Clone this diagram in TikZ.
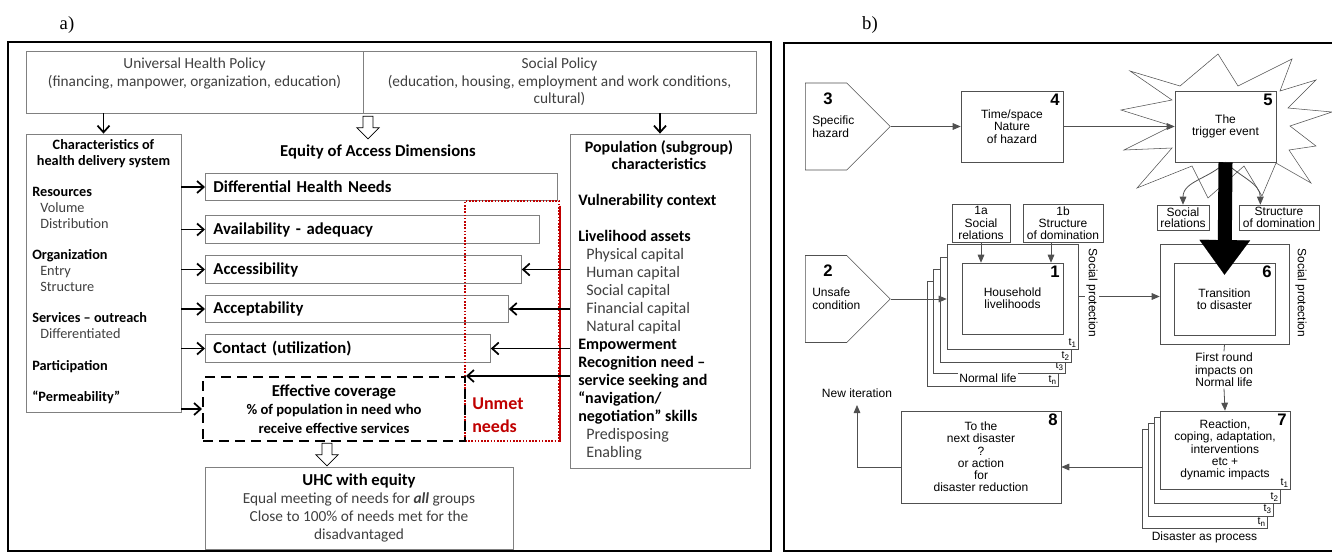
\documentclass[tikz,border=0pt]{standalone}
\usepackage{fontspec}
\setmainfont{Liberation Serif}
\newfontfamily\calfont{Carlito}
\newfontfamily\helvfont{Liberation Sans}
\usepackage{xcolor}
\usepackage{tikz}
\usetikzlibrary{positioning, arrows.meta, shapes.arrows, shapes.symbols}

\definecolor{boxgray}{HTML}{808080}
\definecolor{txtgray}{HTML}{404040}
\definecolor{unmetred}{HTML}{C00000}
\definecolor{linegray}{HTML}{505050}

\newcommand{\kw}[1]{\textcolor{black}{\bfseries #1}}
\newcommand{\tsub}[1]{t\raisebox{-1.5pt}{\fontsize{6}{6}\selectfont #1}}

\tikzset{
  abox/.style 2 args={draw=boxgray, semithick, fill=white, text=txtgray,
    minimum width=#1*0.75pt, minimum height=#2*0.75pt, inner sep=0pt},
  atxt/.style={font=\calfont\fontsize{11.5}{13}\selectfont, text=txtgray, inner sep=0pt},
  ahead/.style={font=\calfont\bfseries\fontsize{12.5}{14}\selectfont, inner sep=0pt},
  dimbox/.style={draw=boxgray, semithick, fill=white, anchor=west, minimum height=20.5pt,
    inner xsep=6pt, inner ysep=0pt, align=left, font=\calfont\bfseries\fontsize{12.5}{14}\selectfont},
  aarrow/.style={-{Straight Barb[length=5pt,width=9pt]}, line width=1.3pt},
  harrow/.style={single arrow, draw, semithick, fill=white, shape border rotate=270,
    minimum height=17pt, inner sep=3.5pt, single arrow head extend=4.5pt},
  bbox/.style 2 args={draw=linegray, fill=white, minimum width=#1*0.75pt, minimum height=#2*0.75pt,
    inner sep=0pt, align=center, font=\helvfont\fontsize{9}{9.2}\selectfont},
  btxt/.style={font=\helvfont\fontsize{9}{9.4}\selectfont, inner sep=1pt},
  bnum/.style={anchor=north east, inner sep=2.5pt, font=\helvfont\bfseries\fontsize{12.5}{13}\selectfont},
  tlab/.style={anchor=south east, inner sep=1.5pt, font=\helvfont\fontsize{8}{8}\selectfont},
  barrow/.style={-{Triangle[length=6pt,width=5pt]}, draw=linegray, line width=0.6pt},
  pent/.style={signal, signal to=east, draw=linegray, fill=white, anchor=west,
    minimum width=63.75pt, minimum height=65.25pt, inner sep=0pt},
}

\begin{document}
\begin{tikzpicture}[x=0.75pt, y=-0.75pt]
\useasboundingbox (0,0) rectangle (1332,554);

% ---- a) equity of access ----
\node[font=\fontsize{14}{16}\selectfont] (laba) at (67,25) {a)};
\draw[line width=1.6pt] (8,42) rectangle (771,551);

\node[abox={337}{62}] (uhp) at (194.5,82) {};
\node[atxt, align=center, below=5.5pt of uhp.north] (uhptxt) {Universal Health Policy\\(financing, manpower, organization, education)};
\node[abox={393}{62}, atxt, align=center] (sp) at (559.5,82) {Social Policy\\(education, housing, employment and work conditions,\\cultural)};

\node[ahead] (eqt) at (378,152) {Equity of Access Dimensions};
\node[harrow] (ha1) at (368,125) {};

\node[abox={155}{278}] (chr) at (103.5,273) {};
\node[font=\calfont\bfseries\fontsize{10.7}{12}\selectfont, align=center] (chrtitle) at (103.5,154) {Characteristics of\\health delivery system};
\node[font=\calfont\fontsize{10.7}{11.85}\selectfont, text=txtgray, align=left, anchor=north west, inner sep=0pt] (chrlist) at (32,187) {%
  \kw{Resources}\\
  \hspace*{6pt}Volume\\
  \hspace*{6pt}Distribution\\[11.85pt]
  \kw{Organization}\\
  \hspace*{6pt}Entry\\
  \hspace*{6pt}Structure\\[11.85pt]
  \kw{Services – outreach}\\
  \hspace*{6pt}Differentiated\\[11.85pt]
  \kw{Participation}\\[11.85pt]
  \kw{“Permeability”}};

\node[dimbox, text width=252pt] (dhn) at (205,187) {Differential Health Needs};
\node[dimbox, text width=238.5pt] (avl) at (205,229.5) {Availability - adequacy};
\node[dimbox, text width=225pt] (acc) at (205,269.5) {Accessibility};
\node[dimbox, text width=215.25pt] (acp) at (205,309) {Acceptability};
\node[dimbox, text width=201.75pt] (con) at (205,348.5) {Contact (utilization)};

% unmet needs
\node[draw=unmetred, line width=1.2pt, dash pattern=on 1.2pt off 1.2pt, minimum width=70.5pt, minimum height=180pt, inner sep=0pt] (unm) at (512,321) {};
\draw[unmetred, line width=1.2pt] ([yshift=-4pt]unm.north east) -- (unm.south east);
\node[font=\calfont\bfseries\fontsize{13.5}{17}\selectfont, text=unmetred, align=left, anchor=west, inner sep=0pt] (unmtxt) at (472,415) {Unmet\\needs};

\node[draw, line width=1.5pt, dash pattern=on 7.5pt off 4.5pt, minimum width=196.5pt, minimum height=48pt, inner sep=0pt, align=center,
  font=\calfont\bfseries\fontsize{11}{13.8}\selectfont] (eff) at (334,409)
  {{\fontsize{12.5}{13.8}\selectfont Effective coverage}\\\% of population in need who\\receive effective services};

\node[harrow] (ha2) at (327,452) {};
\node[abox={308}{82}, atxt, align=center, font=\calfont\fontsize{11.5}{13.3}\selectfont] (uhc) at (359,508)
  {{\bfseries\color{black}\fontsize{12.5}{13.3}\selectfont UHC with equity}\\Equal meeting of needs for \textbf{\textit{all}} groups\\Close to 100\% of needs met for the\\disadvantaged};

\node[abox={180}{334}] (pop) at (660,301) {};
\node[font=\calfont\bfseries\fontsize{12}{12.5}\selectfont, align=center] (poptitle) at (659,155) {Population (subgroup)\\characteristics};
\node[font=\calfont\fontsize{12}{13.5}\selectfont, text=txtgray, align=left, anchor=north west, inner sep=0pt] (poplist) at (578,194) {%
  \kw{Vulnerability context}\\[13.5pt]
  \kw{Livelihood assets}\\
  \hspace*{6pt}Physical capital\\
  \hspace*{6pt}Human capital\\
  \hspace*{6pt}Social capital\\
  \hspace*{6pt}Financial capital\\
  \hspace*{6pt}Natural capital\\
  \kw{Empowerment}\\
  \kw{Recognition need –}\\
  \kw{service seeking and}\\
  \kw{“navigation/}\\
  \kw{negotiation” skills}\\
  \hspace*{6pt}Predisposing\\
  \hspace*{6pt}Enabling};

\draw[aarrow] (uhp.south -| chr.north) -- (chr.north);
\draw[aarrow] (sp.south -| pop.north) -- (pop.north);
\foreach \d in {dhn, avl, acc, acp, con, eff}
  \draw[aarrow] (chr.east |- \d.west) -- (\d.west);
\foreach \d in {acc, acp, con}
  \draw[aarrow] (pop.west |- \d.east) -- (\d.east);
\draw[aarrow] (pop.west |- eff.north east) -- (eff.north east);

% ---- b) disaster as process ----
\node[font=\fontsize{14}{16}\selectfont] (labb) at (870,25) {b)};
\draw[line width=1.6pt] (1332,43) -- (784,43) -- (784,551) -- (1332,551);

% burst round the trigger event
\draw[draw=linegray, fill=white] (1130,71) -- (1180,86) -- (1218,54) -- (1238,86) -- (1292,59) -- (1280,91)
  -- (1316,80) -- (1288,108) -- (1332,112) -- (1290,126) -- (1316,146) -- (1289,150) -- (1311,183)
  -- (1276,163) -- (1262,196) -- (1244,166) -- (1208,198) -- (1192,166) -- (1137,188) -- (1172,148)
  -- (1124,150) -- (1172,126) -- (1121,110) -- (1172,100) -- cycle;

\node[pent] (b3) at (805,126.5) {};
\node[font=\helvfont\bfseries\fontsize{12.5}{13}\selectfont, anchor=base west, inner sep=0pt] (n3) at (823,104) {3};
\node[btxt, align=left, anchor=north west, inner sep=0pt] (b3txt) at (812,116) {Specific\\hazard};

\node[bbox={102}{71}, label={[bnum]north east:4}] (b4) at (1012,126.5) {Time/space\\Nature\\of hazard};
\node[bbox={101}{71}, label={[bnum]north east:5}] (b5) at (1225.5,126.5) {The\\trigger event};
\draw[barrow] (b3.east) -- (b4.west);
\draw[barrow] (b4.east) -- (b5.west);

\node[pent] (b2) at (805,299) {};
\node[font=\helvfont\bfseries\fontsize{12.5}{13}\selectfont, anchor=base west, inner sep=0pt] (n2) at (823,276) {2};
\node[btxt, align=left, anchor=north west, inner sep=0pt] (b2txt) at (812,288) {Unsafe\\condition};

% household stack
\node[bbox={131}{105}, label={[tlab]south east:\tsub{n}}] (hhn) at (992.5,333.5) {};
\node[bbox={132}{104}, label={[tlab]south east:\tsub{3}}] (hh3) at (999,321) {};
\node[bbox={131}{105}, label={[tlab]south east:\tsub{2}}] (hh2) at (1005.5,309.5) {};
\node[bbox={131}{105}, label={[tlab]south east:\tsub{1}}] (hh) at (1012.5,296.5) {};
\node[bbox={101}{71}, label={[bnum]north east:1}] (hin) at (1012.5,298.5) {Household\\livelihoods};
\node[btxt, fill=white] (nl1) at (988,378) {Normal life};

\node[bbox={58}{38}] (s1a) at (981,223) {1a\\Social\\relations};
\node[bbox={80}{38}] (s1b) at (1063,223) {1b\\Structure\\of domination};
\draw[barrow] (s1a.south) -- (s1a.south |- hin.north);
\draw[barrow] ([xshift=-9pt]s1b.south) -- ([xshift=-9pt]s1b.south |- hin.north);
\draw[barrow] (b2.east) -- (b2.east -| hh.west);

% transition
\node[bbox={52}{25}, font=\helvfont\fontsize{9}{8.5}\selectfont] (sr) at (1183,217.5) {Social\\relations};
\node[bbox={80}{25}, font=\helvfont\fontsize{9}{8.5}\selectfont] (sd) at (1279,217.5) {Structure\\of domination};
\node[bbox={129}{100}] (b6o) at (1224.5,294) {};
\node[bbox={101}{72}, label={[bnum]north east:6}] (b6in) at (1224.5,299) {Transition\\to disaster};
\draw[barrow] (b5.south) to[out=225, in=90] (sr.north);
\draw[barrow] (b5.south) to[out=-45, in=90] ([xshift=-14pt]sd.north);
\draw[line width=10.5pt, -{Triangle[length=26pt,width=38pt,line width=0.1pt]}] (b5.south) -- ([yshift=-9pt]b6in.north);

\draw[barrow] (hh.east) -- (hh.east -| b6o.west);
\node[btxt, rotate=-90, fill=white] (sp1) at (1092,293) {Social protection};
\node[btxt, rotate=-90, fill=white] (sp2) at (1301,293) {Social protection};

\node[btxt, align=center] (frl) at (1224,370) {First round\\impacts on\\Normal life};
\draw[draw=linegray, line width=0.6pt] (b6o.south) -- (frl.north);

% reaction stack
\node[bbox={125}{99}, label={[tlab]south east:\tsub{n}}] (b7n) at (1204.5,478.5) {};
\node[bbox={125}{93}, label={[tlab]south east:\tsub{3}}] (b73) at (1210.5,469.5) {};
\node[bbox={126}{86}, label={[tlab]south east:\tsub{2}}] (b72) at (1217,460) {};
\node[bbox={130}{78}, label={[bnum]north east:7}, label={[tlab]south east:\tsub{1}}] (b7) at (1225,450)
  {Reaction,\\coping, adaptation,\\interventions\\etc +\\dynamic impacts};
\node[btxt, below=1.5pt of b7n] (dap) {Disaster as process};
\draw[barrow] (frl.south) -- (b7.north);

\node[bbox={160}{92}, label={[bnum]north east:8}] (b8) at (981,457) {To the\\next disaster\\?\\or action\\for\\disaster reduction};
\coordinate (b8r) at ([yshift=-7.5pt]b8.east);
\draw[barrow] (b7n.west |- b8r) -- (b8r);
\node[btxt] (newit) at (857,393) {New iteration};
\draw[barrow, shorten >=4.5pt] ([yshift=-7.5pt]b8.west) -| (newit.south);
\end{tikzpicture}
\end{document}
